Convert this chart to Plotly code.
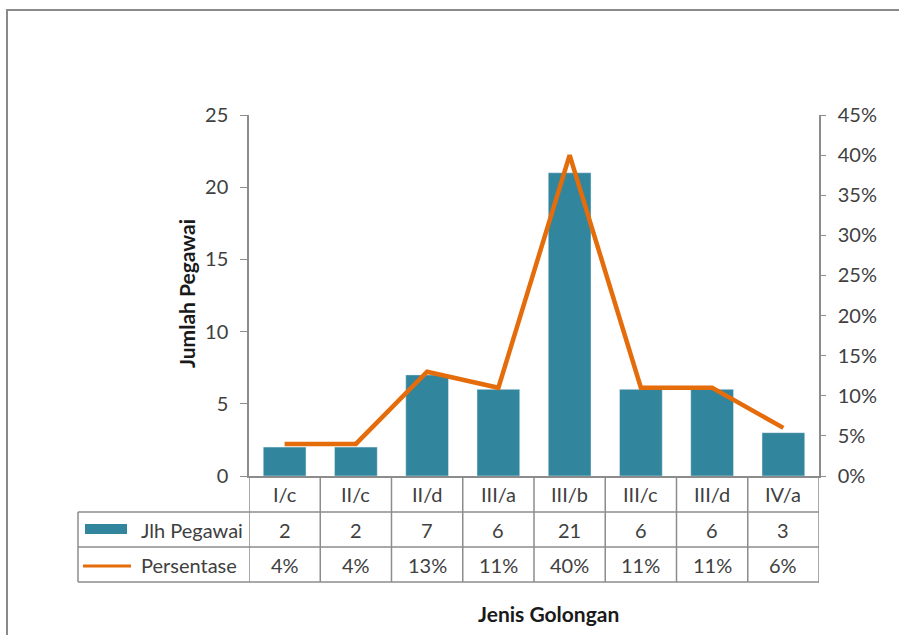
import plotly.graph_objects as go

# Data
golongan = ["I/c", "II/c", "II/d", "III/a", "III/b", "III/c", "III/d", "IV/a"]
jumlah_pegawai = [2, 2, 7, 6, 21, 6, 6, 3]
persentase = [0.04, 0.04, 0.13, 0.11, 0.40, 0.11, 0.11, 0.06]
persentase_label = ["4%", "4%", "13%", "11%", "40%", "11%", "11%", "6%"]

W, H = 899, 635
L, R, T, B = 249, 819, 115, 476  # plot area in pixels

def px(x):
    return (x - L) / (R - L)

def py(y):
    return (B - y) / (B - T)

BAR = "#31859C"
LINE = "#E46C0A"
GRID = "#8C8C8C"
TXT = "#404040"
FONT = "Lato"
FS = 20
FSB = 21

fig = go.Figure()
fig.add_trace(go.Bar(x=golongan, y=jumlah_pegawai, marker_color=BAR,
                     width=0.6, name="Jlh Pegawai"))
fig.add_trace(go.Scatter(x=golongan, y=persentase, yaxis="y2", mode="lines",
                         line=dict(color=LINE, width=4.5), name="Persentase"))

shapes = []
ann = []

# data table grid
row_y = [476, 512, 547, 582]
for yv in row_y[1:]:
    shapes.append(dict(type="line", xref="paper", yref="paper",
                       x0=px(78), x1=px(819), y0=py(yv), y1=py(yv),
                       line=dict(color=GRID, width=1.5)))
for i in range(len(golongan) + 1):
    shapes.append(dict(type="line", xref="x", yref="paper",
                       x0=i - 0.5, x1=i - 0.5, y0=py(476), y1=py(582),
                       line=dict(color=GRID, width=1.5)))
shapes.append(dict(type="line", xref="paper", yref="paper",
                   x0=px(78), x1=px(78), y0=py(512), y1=py(582),
                   line=dict(color=GRID, width=1.5)))

# legend keys inside the table
shapes.append(dict(type="rect", xref="paper", yref="paper",
                   x0=px(85), x1=px(127), y0=py(534), y1=py(524),
                   fillcolor=BAR, line=dict(width=0)))
shapes.append(dict(type="line", xref="paper", yref="paper",
                   x0=px(83), x1=px(131), y0=py(566), y1=py(566),
                   line=dict(color=LINE, width=3)))

# outer frame
shapes.append(dict(type="rect", xref="paper", yref="paper",
                   x0=px(7), x1=px(910), y0=py(10), y1=py(650),
                   line=dict(color="#8A8A8A", width=2), layer="below"))

tf = dict(family=FONT, size=FS, color=TXT)

def label(x, y, text, xref="x", xanchor="center", font=tf, **kw):
    ann.append(dict(x=x, y=y, xref=xref, yref="paper", text=text,
                    showarrow=False, xanchor=xanchor, yanchor="middle",
                    font=font, **kw))

for i, g in enumerate(golongan):
    label(i, py(494), g)
    label(i, py(530), str(jumlah_pegawai[i]))
    label(i, py(565), persentase_label[i])

label(px(245), py(530), "Jlh Pegawai", xref="paper", xanchor="right")
label(px(239), py(565), "Persentase", xref="paper", xanchor="right")

tfb = dict(family=FONT, size=FSB, color="#1a1a1a")
label(px(186), py(294), "<b>Jumlah Pegawai</b>", xref="paper",
      font=tfb, textangle=-90)
label(px(548), py(613), "<b>Jenis Golongan</b>", xref="paper", font=tfb)

fig.update_layout(
    width=W, height=H,
    margin=dict(l=L, r=W - R, t=T, b=H - B, pad=0),
    paper_bgcolor="white", plot_bgcolor="white",
    showlegend=False, bargap=0.4,
    font=dict(family=FONT, size=FS, color=TXT),
    xaxis=dict(showticklabels=False, ticks="", showgrid=False,
               showline=True, linecolor=GRID, linewidth=1.5,
               range=[-0.5, len(golongan) - 0.5], zeroline=False),
    yaxis=dict(range=[0, 25], dtick=5, showgrid=False, zeroline=False,
               showline=True, linecolor=GRID, linewidth=1.5,
               ticks="outside", ticklen=7, tickcolor=GRID,
               ticklabelstandoff=8,
               tickfont=dict(family=FONT, size=FS, color=TXT)),
    yaxis2=dict(range=[0, 0.45], dtick=0.05, tickformat=".0%",
                overlaying="y", side="right", showgrid=False, zeroline=False,
                showline=True, linecolor=GRID, linewidth=1.5,
                ticks="outside", ticklen=5, tickcolor=GRID,
                ticklabelstandoff=8,
                tickfont=dict(family=FONT, size=FS, color=TXT)),
    shapes=shapes, annotations=ann,
)

fig.write_html("out.html")
